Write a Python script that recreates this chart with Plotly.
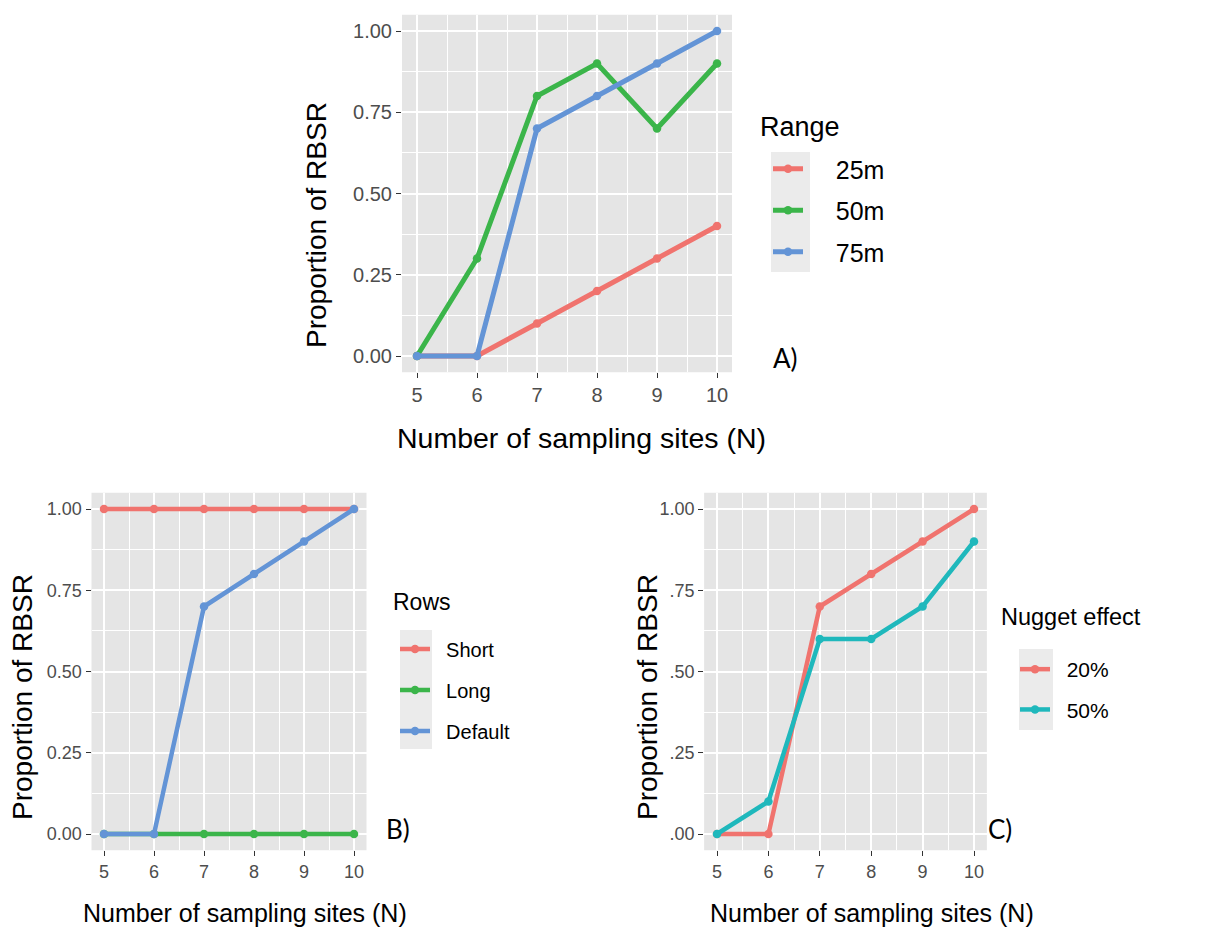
import plotly.graph_objects as go

W, H = 1232, 929
OFF = 8  # default body margin of the page shifts the figure by 8px

# ---------------- data ----------------
n_sites = [5, 6, 7, 8, 9, 10]

range_names = ["25m", "50m", "75m"]
range_25m = [0.0, 0.0, 0.1, 0.2, 0.3, 0.4]
range_50m = [0.0, 0.3, 0.8, 0.9, 0.7, 0.9]
range_75m = [0.0, 0.0, 0.7, 0.8, 0.9, 1.0]

rows_names = ["Short", "Long", "Default"]
rows_short = [1.0, 1.0, 1.0, 1.0, 1.0, 1.0]
rows_long = [0.0, 0.0, 0.0, 0.0, 0.0, 0.0]
rows_default = [0.0, 0.0, 0.7, 0.8, 0.9, 1.0]

nugget_names = ["20%", "50%"]
nugget_20 = [0.0, 0.0, 0.7, 0.8, 0.9, 1.0]
nugget_50 = [0.0, 0.1, 0.6, 0.6, 0.7, 0.9]

y_tickvals = [0.0, 0.25, 0.5, 0.75, 1.0]
y_ticktext_ab = ["0.00", "0.25", "0.50", "0.75", "1.00"]
y_ticktext_c = [".00", ".25", ".50", ".75", "1.00"]

# ---------------- style ----------------
RED3, GREEN3, BLUE3 = "#F0736E", "#3BB54A", "#6394D6"
RED2, TEAL2 = "#F0736E", "#1FB8BC"
PANEL_BG = "#E5E5E5"
KEY_BG = "#EBEBEB"
FONT = "Liberation Sans"
NB = "\u00a0"


def px(x):
    return (x - OFF) / W


def py(y):
    return 1 - (y - OFF) / H


fig = go.Figure()


def add_series(xa, ya, name, yvals, color, legend, group, lw):
    fig.add_trace(go.Scatter(
        x=n_sites, y=yvals, name=name, mode="lines+markers",
        line=dict(color=color, width=lw),
        marker=dict(color=color, size=8.5),
        xaxis=xa, yaxis=ya, legend=legend, legendgroup=group,
        showlegend=True,
    ))


padA, padB, padC = NB * 4, NB * 2, NB * 2
add_series("x", "y", padA + range_names[0], range_25m, RED3, "legend", "a1", 5)
add_series("x", "y", padA + range_names[1], range_50m, GREEN3, "legend", "a2", 5)
add_series("x", "y", padA + range_names[2], range_75m, BLUE3, "legend", "a3", 5)

add_series("x2", "y2", padB + rows_names[0], rows_short, RED3, "legend2", "b1", 4.5)
add_series("x2", "y2", padB + rows_names[1], rows_long, GREEN3, "legend2", "b2", 4.5)
add_series("x2", "y2", padB + rows_names[2], rows_default, BLUE3, "legend2", "b3", 4.5)

add_series("x3", "y3", padC + nugget_names[0], nugget_20, RED2, "legend3", "c1", 4.5)
add_series("x3", "y3", padC + nugget_names[1], nugget_50, TEAL2, "legend3", "c2", 4.5)


def xaxis(domain, anchor, fs):
    return dict(
        domain=domain, anchor=anchor, range=[4.75, 10.25],
        tickvals=n_sites, ticks="outside", ticklen=5, tickwidth=1.3,
        tickcolor="#333333", showline=False, zeroline=False,
        showgrid=True, gridcolor="white", gridwidth=2,
        minor=dict(dtick=0.5, tick0=4.5, showgrid=True, gridcolor="white", gridwidth=1.2, ticks=""),
        tickfont=dict(family=FONT, size=fs, color="#4D4D4D"),
        fixedrange=True,
    )


def yaxis(domain, anchor, fs, ticktext):
    return dict(
        domain=domain, anchor=anchor, range=[-0.05, 1.05],
        tickvals=y_tickvals, ticktext=ticktext, ticks="outside", ticklen=5,
        tickwidth=1.3, tickcolor="#333333", showline=False, zeroline=False,
        showgrid=True, gridcolor="white", gridwidth=2,
        minor=dict(dtick=0.125, tick0=0, showgrid=True, gridcolor="white", gridwidth=1.2, ticks=""),
        tickfont=dict(family=FONT, size=fs, color="#4D4D4D"),
        fixedrange=True,
    )


# panel domains (page pixel coordinates)
dom_a_x = [px(402), px(732)]
dom_a_y = [py(372.25), py(14.75)]
dom_b_x = [px(91.5), px(366.5)]
dom_bc_y = [py(850.25), py(492.75)]
dom_c_x = [px(704.15), px(986.85)]

annotations = []


def text(x, y, s, size, angle=0, family=FONT, color="black", xanchor="center"):
    annotations.append(dict(
        x=px(x), y=py(y), xref="paper", yref="paper", text=s, showarrow=False,
        textangle=angle, xanchor=xanchor, yanchor="middle",
        font=dict(family=family, size=size, color=color),
    ))


# axis titles
text(581, 438, "Number of sampling sites (N)", 28.5)
text(317, 225, "Proportion of RBSR", 28, angle=-90)
text(245, 913, "Number of sampling sites (N)", 25)
text(22, 697, "Proportion of RBSR", 28, angle=-90)
text(872, 913, "Number of sampling sites (N)", 25)
text(647, 697, "Proportion of RBSR", 28, angle=-90)
# legend titles
text(758, 127, "Range", 27, xanchor="left")
text(391, 602, "Rows", 23, xanchor="left")
text(999, 617, "Nugget effect", 23.5, xanchor="left")
# panel letters
text(785, 358, "A)", 26, family="Lato")
text(398, 829, "B)", 26, family="Lato")
text(1000, 829, "C)", 26, family="Lato")


def legend(xl, ytop, fs, gap):
    return dict(
        x=px(xl), y=py(ytop), xanchor="left", yanchor="top",
        xref="paper", yref="paper",
        bgcolor="rgba(0,0,0,0)", borderwidth=0,
        font=dict(family=FONT, size=fs, color="black"),
        itemwidth=30, tracegroupgap=gap, traceorder="grouped",
        itemclick=False, itemdoubleclick=False,
    )


def keyrect(x0, x1, y0, y1):
    return dict(type="rect", xref="paper", yref="paper", x0=px(x0), x1=px(x1),
                y0=py(y1), y1=py(y0), fillcolor=KEY_BG, line=dict(width=0), layer="below")


shapes = [
    keyrect(771, 810, 152, 272),
    keyrect(400, 432, 630, 749),
    keyrect(1019, 1053, 649, 730),
]

fig.update_layout(
    width=W, height=H, margin=dict(l=0, r=0, t=0, b=0),
    paper_bgcolor="white", plot_bgcolor=PANEL_BG,
    font=dict(family=FONT, color="black"),
    xaxis=xaxis(dom_a_x, "y", 20),
    yaxis=yaxis(dom_a_y, "x", 20, y_ticktext_ab),
    xaxis2=xaxis(dom_b_x, "y2", 18),
    yaxis2=yaxis(dom_bc_y, "x2", 18, y_ticktext_ab),
    xaxis3=xaxis(dom_c_x, "y3", 18),
    yaxis3=yaxis(dom_bc_y, "x3", 18, y_ticktext_c),
    legend=legend(768, 146, 25, 6),
    legend2=legend(395, 629.5, 20, 12),
    legend3=legend(1015, 649, 21, 10),
    annotations=annotations,
    shapes=shapes,
    hovermode=False,
)

fig.write_html("out.html")
